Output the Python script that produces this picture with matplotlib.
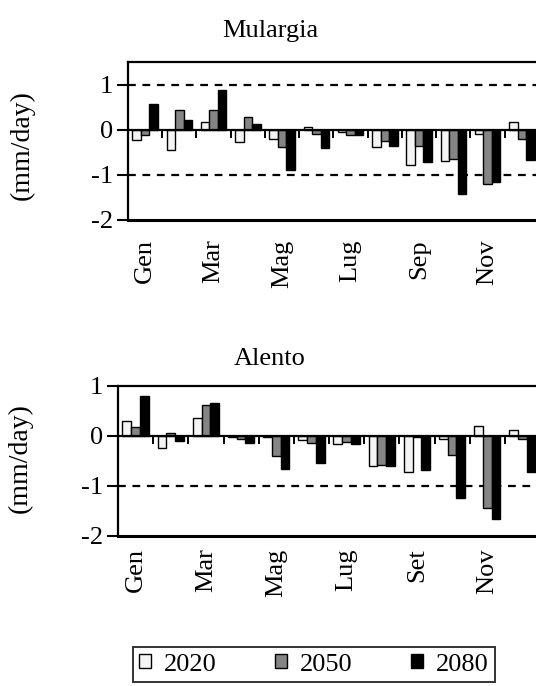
import numpy as np
import matplotlib
matplotlib.use('Agg')
import matplotlib.pyplot as plt

plt.rcParams['font.family'] = ['Liberation Serif', 'DejaVu Serif']
plt.rcParams['font.size'] = 19

serie = ['2020', '2050', '2080']
colori = ['#f4f4f4', '#858585', '#000000']

mul_etichette = ['Gen', '', 'Mar', '', 'Mag', '', 'Lug', '', 'Sep', '', 'Nov', '']
mul_2020 = [-0.23, -0.45, 0.17, -0.27, -0.20, 0.06, -0.04, -0.38, -0.79, -0.70, -0.09, 0.17]
mul_2050 = [-0.12, 0.43, 0.43, 0.28, -0.38, -0.10, -0.12, -0.24, -0.37, -0.64, -1.20, -0.20]
mul_2080 = [0.56, 0.22, 0.87, 0.12, -0.90, -0.40, -0.12, -0.35, -0.71, -1.43, -1.15, -0.68]

ale_etichette = ['Gen', '', 'Mar', '', 'Mag', '', 'Lug', '', 'Set', '', 'Nov', '']
ale_2020 = [0.30, -0.25, 0.36, -0.03, -0.03, -0.08, -0.17, -0.61, -0.73, -0.06, 0.20, 0.12]
ale_2050 = [0.18, 0.06, 0.61, -0.07, -0.41, -0.15, -0.13, -0.58, -0.03, -0.39, -1.44, -0.07]
ale_2080 = [0.79, -0.11, 0.65, -0.15, -0.66, -0.54, -0.17, -0.61, -0.68, -1.25, -1.65, -0.73]

W, H = 536, 686


def pannello(ax, etichette, valori, ymin, ymax, tratteggi, pad):
    x = np.arange(len(etichette))
    larg = 0.25
    for i, (v, c) in enumerate(zip(valori, colori)):
        ax.bar(x + (i - 1) * larg, v, larg, color=c, edgecolor='black', linewidth=1.0,
               label=serie[i], zorder=3)
    for t in tratteggi:
        ax.axhline(t, color='black', linewidth=1.6, linestyle=(0, (3.5, 3)), zorder=2)
    ax.set_xlim(-0.5, len(etichette) - 0.5)
    ax.set_ylim(ymin, ymax)
    ax.set_yticks([-2, -1, 0, 1])
    ax.set_yticklabels(['-2', '-1', '0', '1'])
    ax.set_xticks(x)
    ax.set_xticklabels(etichette, rotation=90)
    ax.tick_params(axis='x', length=0, pad=pad)
    ax.tick_params(axis='y', direction='out', length=8, width=1.5, pad=3)
    for s in ax.spines.values():
        s.set_linewidth(1.6)
    ax.spines['bottom'].set_linewidth(2.2)
    # asse delle categorie che incrocia lo zero, con le tacche tra i mesi
    zero = (0 - ymin) / (ymax - ymin)
    sec = ax.secondary_xaxis(zero)
    sec.set_xticks(np.arange(len(etichette) + 1) - 0.5)
    sec.set_xticklabels([])
    sec.xaxis.set_ticks_position('bottom')
    sec.tick_params(axis='x', which='major', bottom=True, top=False, direction='out',
                    length=6, width=1.4, color='black')
    sec.set_zorder(4)
    for s in sec.spines.values():
        s.set_linewidth(1.6)


fig = plt.figure(figsize=(W / 100, H / 100), dpi=100)

ax1 = fig.add_axes([128 / W, 1 - 220 / H, (539 - 128) / W, (220 - 62) / H])
pannello(ax1, mul_etichette, [mul_2020, mul_2050, mul_2080], -2, 1.5, [1, -1], 14)

ax2 = fig.add_axes([118 / W, 1 - 536 / H, (540 - 118) / W, (536 - 386) / H])
pannello(ax2, ale_etichette, [ale_2020, ale_2050, ale_2080], -2, 1, [-1], 9)

fig.text(270 / W, 1 - 31 / H, 'Mulargia', ha='center', va='center', fontsize=19)
fig.text(270 / W, 1 - 359 / H, 'Alento', ha='center', va='center', fontsize=19)
fig.text(22 / W, 1 - 145 / H, '(mm/day)', rotation=90, ha='center', va='center', fontsize=20)
fig.text(20 / W, 1 - 458 / H, '(mm/day)', rotation=90, ha='center', va='center', fontsize=20)

maniglie, nomi = ax1.get_legend_handles_labels()
leg = fig.legend(maniglie, nomi, loc='upper center', bbox_to_anchor=(314 / W, 1 - 647 / H),
                 ncol=3, frameon=True, fancybox=False, edgecolor='black', fontsize=19,
                 handlelength=0.45, handleheight=0.45, handletextpad=0.5,
                 columnspacing=2.2, borderpad=0.25, borderaxespad=0)
leg.get_frame().set_linewidth(1.4)

fig.savefig('out.png', dpi=100)
